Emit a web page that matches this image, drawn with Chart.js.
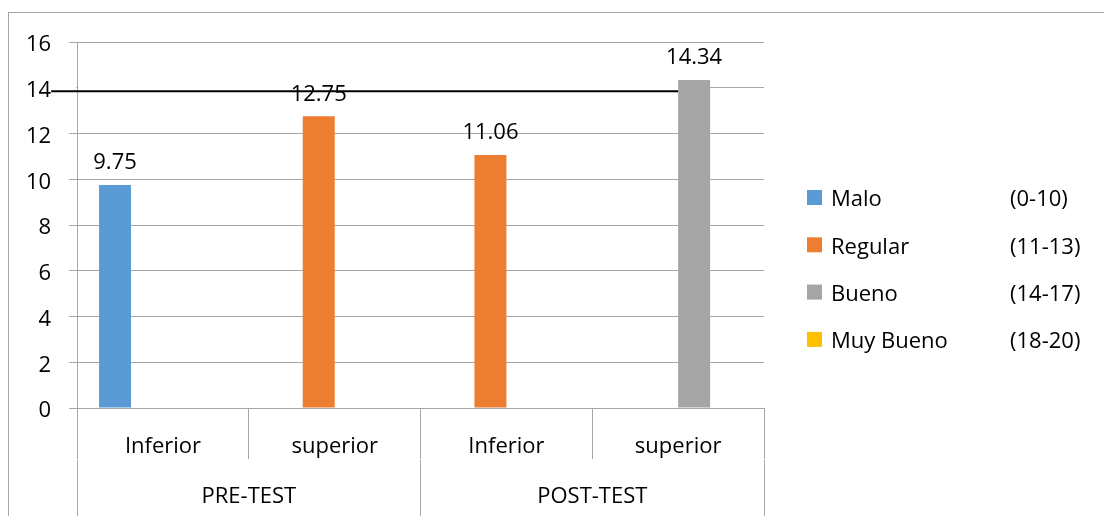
<!DOCTYPE html>
<html lang="es">
<head>
<meta charset="utf-8">
<title>Promedios PRE-TEST y POST-TEST</title>
<script src="https://cdn.jsdelivr.net/npm/chart.js@4.4.0/dist/chart.umd.min.js"></script>
<style>
  html, body { margin: 0; padding: 0; background: #fff; }
  #caja { position: relative; width: 1104px; height: 516px; }
  #marco { position: absolute; left: 8px; top: 12px; right: 0; bottom: 0;
           border-top: 1px solid #a6a6a6; border-left: 1px solid #a6a6a6; pointer-events: none; }
</style>
</head>
<body>
<div id="caja">
  <canvas id="grafica" width="1104" height="516"></canvas>
  <div id="marco"></div>
</div>
<script>
// datos
const categorias = ['Inferior', 'superior', 'Inferior', 'superior'];
const grupos = ['PRE-TEST', 'POST-TEST'];
const niveles = ['Malo', 'Regular', 'Bueno', 'Muy Bueno'];
const rangos = ['(0-10)', '(11-13)', '(14-17)', '(18-20)'];
const malo = [9.75, null, null, null];
const regular = [null, 12.75, 11.06, null];
const bueno = [null, null, null, 14.34];
const muyBueno = [null, null, null, null];
const ticksY = [0, 2, 4, 6, 8, 10, 12, 14, 16];
const lineaMeta = 13.85;

const colores = ['#5b9bd5', '#ed7d31', '#a5a5a5', '#ffc000'];
const gris = '#a6a6a6';

Chart.defaults.font.family = '"Open Sans", sans-serif';
Chart.defaults.font.size = 22;
Chart.defaults.color = '#000';

// linea negra horizontal hasta la barra gris
const lineaNegra = {
  id: 'lineaNegra',
  afterDatasetsDraw(chart) {
    const ctx = chart.ctx;
    const y = chart.scales.y;
    const area = chart.chartArea;
    const barra = chart.getDatasetMeta(2).data[3];
    const fin = barra.x - barra.width / 2;
    const y14 = y.getPixelForValue(14);
    ctx.save();
    ctx.strokeStyle = '#fff';
    ctx.lineWidth = 2;
    ctx.beginPath();
    ctx.moveTo(area.left - 9, y14); ctx.lineTo(area.left - 1, y14);
    ctx.moveTo(area.left + 1, y14); ctx.lineTo(fin, y14);
    ctx.stroke();
    const yl = y.getPixelForValue(lineaMeta);
    ctx.strokeStyle = '#000';
    ctx.lineWidth = 2;
    ctx.beginPath();
    ctx.moveTo(area.left - 26, yl);
    ctx.lineTo(fin, yl);
    ctx.stroke();
    ctx.restore();
  }
};

// valores encima de cada barra
const etiquetas = {
  id: 'etiquetas',
  afterDatasetsDraw(chart) {
    const ctx = chart.ctx;
    ctx.save();
    ctx.font = '22px "Open Sans"';
    ctx.fillStyle = '#000';
    ctx.textAlign = 'center';
    ctx.textBaseline = 'middle';
    chart.data.datasets.forEach((ds, i) => {
      chart.getDatasetMeta(i).data.forEach((bar, j) => {
        const v = ds.data[j];
        if (v == null) return;
        ctx.fillText(v.toFixed(2), bar.x, bar.y - 22);
      });
    });
    ctx.restore();
  }
};

// leyenda a la derecha con los rangos
const leyenda = {
  id: 'leyenda',
  afterDraw(chart) {
    const ctx = chart.ctx;
    const x0 = chart.chartArea.right + 43;
    ctx.save();
    ctx.font = '22px "Open Sans"';
    ctx.textBaseline = 'middle';
    niveles.forEach((n, i) => {
      const yc = 200 + i * 47.3;
      ctx.fillStyle = colores[i];
      ctx.fillRect(x0, yc - 10, 15, 15);
      ctx.fillStyle = '#000';
      ctx.fillText(n, x0 + 24, yc);
      ctx.fillText(rangos[i], x0 + 203, yc);
    });
    ctx.restore();
  }
};

let grafica = new Chart(document.getElementById('grafica'), {
  type: 'bar',
  data: {
    labels: categorias,
    datasets: [malo, regular, bueno, muyBueno].map((d, i) => ({
      label: niveles[i],
      data: d,
      backgroundColor: colores[i],
      barPercentage: 1,
      categoryPercentage: 0.745
    }))
  },
  options: {
    responsive: false,
    animation: false,
    layout: { padding: { left: 8, top: 42, right: 340, bottom: 0 } },
    plugins: { legend: { display: false }, tooltip: { enabled: false } },
    scales: {
      x: {
        weight: 0,
        grid: { offset: true, drawOnChartArea: false, tickLength: 51, color: gris },
        border: { display: false },
        ticks: { padding: -25.2 },
        afterFit: s => { s.height = 52; }
      },
      x2: {
        type: 'category',
        labels: grupos,
        position: 'bottom',
        weight: 1,
        offset: true,
        grid: { offset: true, drawOnChartArea: false, tickLength: 62, color: gris },
        border: { display: false },
        ticks: { padding: -38.2 },
        afterFit: s => { s.height = 56; }
      },
      y: {
        min: 0,
        max: 16,
        afterBuildTicks: s => { s.ticks = ticksY.map(v => ({ value: v })); },
        grid: { color: gris, tickLength: 8 },
        border: { color: gris },
        ticks: { padding: 18, labelOffset: 3 }
      }
    }
  },
  plugins: [lineaNegra, etiquetas, leyenda]
});
</script>
</body>
</html>
